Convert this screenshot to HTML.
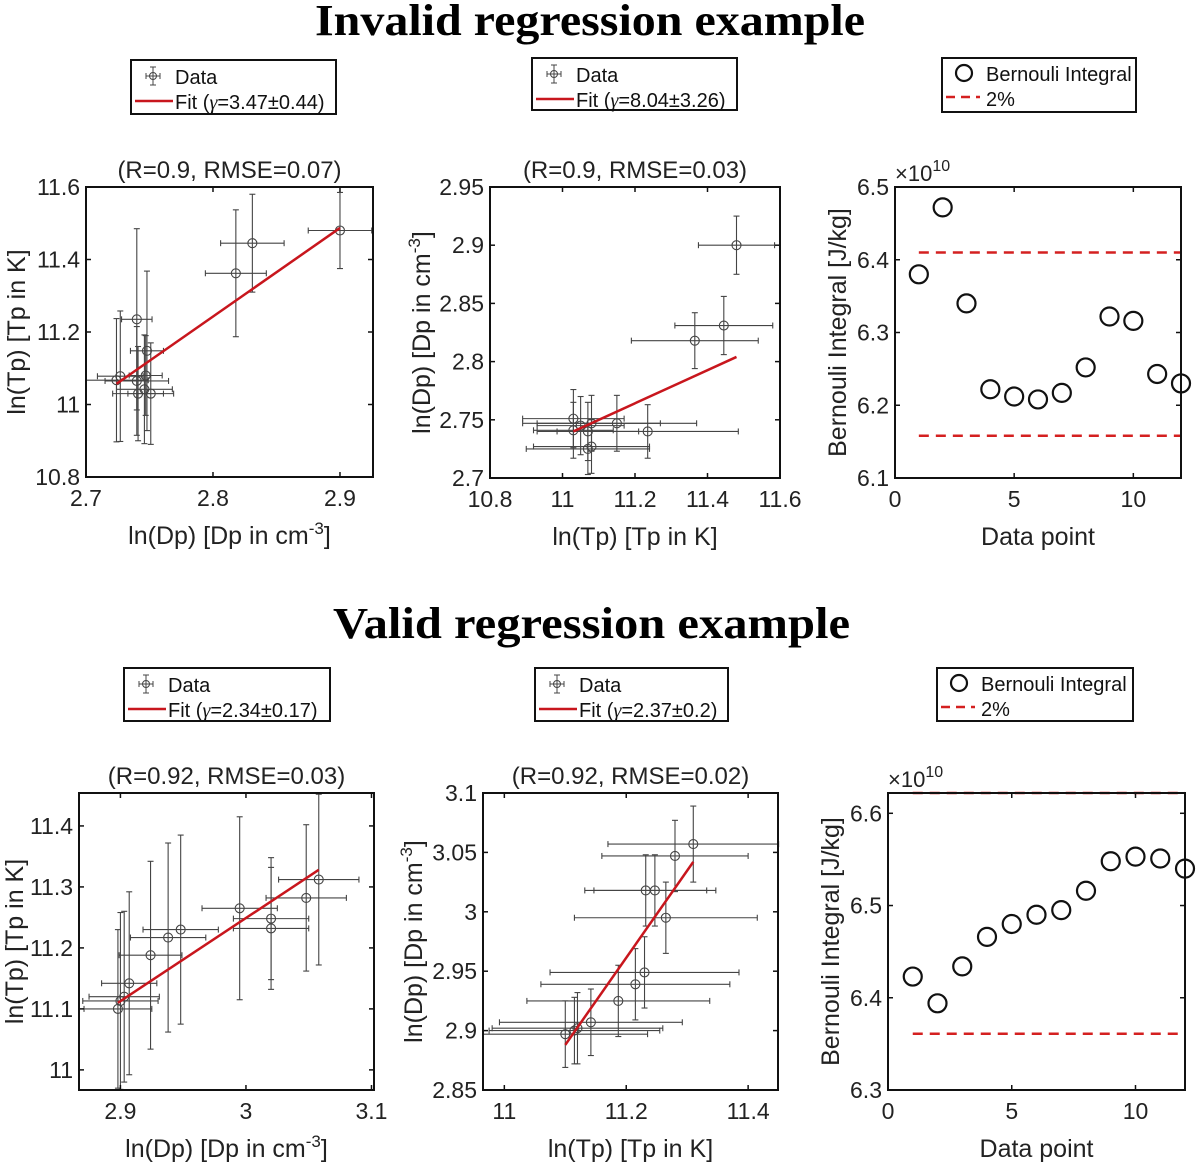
<!DOCTYPE html>
<html><head><meta charset="utf-8">
<style>
html,body{margin:0;padding:0;background:#fff;}
svg text{font-family:"Liberation Sans",Arial,sans-serif;}
</style></head>
<body>
<svg id="fig" width="1200" height="1167" viewBox="0 0 1200 1167" xmlns="http://www.w3.org/2000/svg">
<rect width="1200" height="1167" fill="#fff"/>
<text x="315" y="35" textLength="550" lengthAdjust="spacingAndGlyphs" font-weight="bold" font-size="44" style="font-family:'Liberation Serif',serif">Invalid regression example</text>
<text x="333" y="638" textLength="517" lengthAdjust="spacingAndGlyphs" font-weight="bold" font-size="44" style="font-family:'Liberation Serif',serif">Valid regression example</text>
<g id="root"></g>
</svg>
<script>
// Panel 1 data (invalid, Tp vs Dp)
const p1X=[2.724,2.727,2.740,2.740,2.741,2.746,2.747,2.748,2.751,2.818,2.831,2.900];
const p1Y=[11.067,11.078,11.235,11.065,11.030,11.042,11.080,11.148,11.030,11.362,11.445,11.480];
const p1XE=[0.025,0.018,0.012,0.025,0.020,0.022,0.013,0.013,0.018,0.024,0.025,0.025];
const p1YE=[0.17,0.18,0.25,0.15,0.13,0.15,0.11,0.22,0.14,0.175,0.135,0.105];
const p1Fit=[[2.724,11.057],[2.900,11.487]];
// Panel 2 data (invalid, Dp vs Tp)
const p2X=[11.030,11.030,11.070,11.080,11.070,11.080,11.150,11.235,11.365,11.445,11.480,11.050];
const p2Y=[2.751,2.741,2.740,2.747,2.725,2.727,2.747,2.740,2.818,2.831,2.900,2.745];
const p2XE=[0.14,0.11,0.14,0.19,0.17,0.16,0.22,0.25,0.175,0.135,0.105,0.12];
const p2YE=[0.025,0.024,0.025,0.024,0.022,0.023,0.024,0.023,0.024,0.025,0.025,0.025];
const p2Fit=[[11.03,2.740],[11.48,2.804]];
// Panel 3 data (valid, Tp vs Dp)
const p3X=[2.898,2.900,2.903,2.907,2.924,2.938,2.948,2.995,3.020,3.020,3.048,3.058];
const p3Y=[11.100,11.113,11.120,11.142,11.188,11.217,11.230,11.265,11.248,11.232,11.282,11.312];
const p3XE=[0.027,0.030,0.028,0.022,0.025,0.030,0.030,0.030,0.030,0.030,0.032,0.032];
const p3YE=[0.13,0.145,0.14,0.15,0.154,0.155,0.155,0.15,0.1,0.1,0.12,0.14];
const p3Fit=[[2.898,11.11],[3.058,11.328]];
// Panel 4 data (valid, Dp vs Tp)
const p4X=[11.100,11.115,11.120,11.142,11.187,11.215,11.230,11.232,11.247,11.265,11.280,11.310];
const p4Y=[2.897,2.900,2.902,2.907,2.925,2.939,2.949,3.018,3.018,2.995,3.047,3.057];
const p4XE=[0.135,0.14,0.14,0.15,0.15,0.155,0.155,0.1,0.1,0.15,0.12,0.14];
const p4YE=[0.028,0.028,0.030,0.028,0.030,0.030,0.030,0.030,0.030,0.030,0.030,0.032];
const p4Fit=[[11.10,2.888],[11.31,3.042]];
// Bernoulli panels
const bX=[1,2,3,4,5,6,7,8,9,10,11,12];
const b1Y=[6.380,6.472,6.340,6.222,6.212,6.208,6.217,6.252,6.322,6.316,6.243,6.230];
const b1Lines=[6.410,6.158];
const b2Y=[6.423,6.394,6.434,6.466,6.480,6.490,6.495,6.516,6.548,6.553,6.551,6.540];
const b2Lines=[6.361,6.622];
// tick labels
const t1x=[2.7,2.8,2.9], t1y=[10.8,11,11.2,11.4,11.6];
const t2x=[10.8,11,11.2,11.4,11.6], t2y=[2.7,2.75,2.8,2.85,2.9,2.95];
const t3x=[2.9,3,3.1], t3y=[11,11.1,11.2,11.3,11.4];
const t4x=[11,11.2,11.4], t4y=[2.85,2.9,2.95,3,3.05,3.1];
const t5x=[0,5,10], t5y=[6.1,6.2,6.3,6.4,6.5];
const t6x=[0,5,10], t6y=[6.3,6.4,6.5,6.6];

const NS="http://www.w3.org/2000/svg";
const root=document.getElementById('root');
function mk(tag,attrs,parent){const e=document.createElementNS(NS,tag);for(const k in attrs)e.setAttribute(k,attrs[k]);(parent||root).appendChild(e);return e;}
function fmt(v){return String(+v.toFixed(3));}

function axes(g,box,xd,yd,xt,yt,title,xl,yl,ylx){
  const sx=v=>box.l+(v-xd[0])/(xd[1]-xd[0])*(box.r-box.l);
  const sy=v=>box.b-(v-yd[0])/(yd[1]-yd[0])*(box.b-box.t);
  return {sx,sy,finish:function(){
    const fr=mk('rect',{x:box.l,y:box.t,width:box.r-box.l,height:box.b-box.t,fill:'none',stroke:'#111','stroke-width':2},g);
    
    xt.forEach(v=>{const x=sx(v);
      mk('line',{x1:x,x2:x,y1:box.b,y2:box.b-5,stroke:'#111','stroke-width':1.5},g);
      mk('line',{x1:x,x2:x,y1:box.t,y2:box.t+5,stroke:'#111','stroke-width':1.5},g);
      const t=mk('text',{x:x,y:box.b+29,'text-anchor':'middle','font-size':23,fill:'#222'},g);t.textContent=fmt(v);
      });
    yt.forEach(v=>{const y=sy(v);
      mk('line',{x1:box.l,x2:box.l+5,y1:y,y2:y,stroke:'#111','stroke-width':1.5},g);
      mk('line',{x1:box.r,x2:box.r-5,y1:y,y2:y,stroke:'#111','stroke-width':1.5},g);
      const t=mk('text',{x:box.l-6,y:y+8,'text-anchor':'end','font-size':23,fill:'#222'},g);t.textContent=fmt(v);
      });
    if(title){const t=mk('text',{x:(box.l+box.r)/2,y:box.t-9,'text-anchor':'middle','font-size':24,fill:'#222'},g);t.textContent=title;
      }
    const xlab=mk('text',{x:(box.l+box.r)/2,y:box.b+67,'text-anchor':'middle','font-size':25,fill:'#222'},g);
    xlab.innerHTML=xl;
    const cy=(box.t+box.b)/2;
    const ylab=mk('text',{x:ylx,y:cy,'text-anchor':'middle','font-size':25,fill:'#222',transform:`rotate(-90 ${ylx} ${cy})`},g);
    ylab.innerHTML=yl;
  }};
}

function scatterPanel(name,box,xd,yd,xt,yt,X,Y,XE,YE,fit,title,xl,yl,ylx){
  const g=mk('g',{});
  
  const a=axes(g,box,xd,yd,xt,yt,title,xl,yl,ylx);
  const clip='clip-'+name;
  const cp=mk('clipPath',{id:clip},g);mk('rect',{x:box.l,y:box.t-8,width:box.r-box.l+6,height:box.b-box.t+8},cp);
  const dg=mk('g',{'clip-path':`url(#${clip})`},g);
  X.forEach((x,i)=>{
    const px=a.sx(x),py=a.sy(Y[i]);
    const x0=a.sx(x-XE[i]),x1=a.sx(x+XE[i]),y0=a.sy(Y[i]-YE[i]),y1=a.sy(Y[i]+YE[i]);
    const eg=mk('g',{stroke:'#444','stroke-width':1.1,fill:'none'},dg);
    
    mk('line',{x1:x0,x2:x1,y1:py,y2:py},eg);
    mk('line',{x1:x0,x2:x0,y1:py-3,y2:py+3},eg);
    mk('line',{x1:x1,x2:x1,y1:py-3,y2:py+3},eg);
    mk('line',{x1:px,x2:px,y1:y0,y2:y1},eg);
    mk('line',{x1:px-3,x2:px+3,y1:y0,y2:y0},eg);
    mk('line',{x1:px-3,x2:px+3,y1:y1,y2:y1},eg);
    mk('circle',{cx:px,cy:py,r:4.5},eg);
  });
  const fl=mk('line',{x1:a.sx(fit[0][0]),y1:a.sy(fit[0][1]),x2:a.sx(fit[1][0]),y2:a.sy(fit[1][1]),stroke:'#c8161d','stroke-width':2.5},dg);
  
  a.finish();
}

function bernPanel(name,box,yd,yt,Y,lines,ylx){
  const g=mk('g',{});
  
  const a=axes(g,box,[0,12],yd,t5x,yt,null,'Data point','Bernouli Integral [J/kg]',ylx);
  lines.forEach(v=>{const l=mk('line',{x1:a.sx(1),x2:a.sx(12),y1:a.sy(v),y2:a.sy(v),stroke:'#d42020','stroke-width':2.5,'stroke-dasharray':'10 7'},g);
    });
  bX.forEach((x,i)=>{const c=mk('circle',{cx:a.sx(x),cy:a.sy(Y[i]),r:9,fill:'none',stroke:'#111','stroke-width':2.2},g);
    });
  a.finish();
  const ex=mk('text',{x:box.l,y:box.t-6,'font-size':22,fill:'#222'},g);
  ex.innerHTML='×10<tspan dy="-10" font-size="16">10</tspan>';
  
}

function legendFit(name,x,y,w,h,gamma){
  const g=mk('g',{});
  
  mk('rect',{x:x,y:y,width:w,height:h,fill:'#fff',stroke:'#111','stroke-width':2},g);
  const ix=x+22,iy=y+16;
  const eg=mk('g',{stroke:'#444','stroke-width':1,fill:'none'},g);
  mk('line',{x1:ix-7,x2:ix+7,y1:iy,y2:iy},eg);mk('line',{x1:ix-7,x2:ix-7,y1:iy-3,y2:iy+3},eg);mk('line',{x1:ix+7,x2:ix+7,y1:iy-3,y2:iy+3},eg);
  mk('line',{x1:ix,x2:ix,y1:iy-9,y2:iy+9},eg);mk('line',{x1:ix-3,x2:ix+3,y1:iy-9,y2:iy-9},eg);mk('line',{x1:ix-3,x2:ix+3,y1:iy+9,y2:iy+9},eg);
  mk('circle',{cx:ix,cy:iy,r:3.5},eg);
  const t1=mk('text',{x:x+44,y:y+24,'font-size':20,fill:'#111'},g);t1.textContent='Data';
  mk('line',{x1:x+4,x2:x+42,y1:y+41,y2:y+41,stroke:'#c8161d','stroke-width':2.5},g);
  const t2=mk('text',{x:x+44,y:y+49,'font-size':20,fill:'#111'},g);
  t2.innerHTML='Fit (<tspan style="font-family:\'Liberation Serif\',serif;font-style:italic">γ</tspan>='+gamma+')';
}
function legendBern(name,x,y,w,h){
  const g=mk('g',{});
  
  mk('rect',{x:x,y:y,width:w,height:h,fill:'#fff',stroke:'#111','stroke-width':2},g);
  mk('circle',{cx:x+22,cy:y+15,r:8,fill:'none',stroke:'#111','stroke-width':2.2},g);
  const t1=mk('text',{x:x+44,y:y+23,'font-size':20,fill:'#111'},g);t1.textContent='Bernouli Integral';
  mk('line',{x1:x+4,x2:x+38,y1:y+39,y2:y+39,stroke:'#d42020','stroke-width':2.5,'stroke-dasharray':'9 6'},g);
  const t2=mk('text',{x:x+44,y:y+48,'font-size':20,fill:'#111'},g);t2.textContent='2%';
}

const cm='[Dp in cm<tspan dy="-10" font-size="17">-3</tspan><tspan dy="10">]</tspan>';
scatterPanel('panel-invalid-tp-vs-dp',{l:86,r:373,t:187,b:477},[2.7,2.926],[10.8,11.6],t1x,t1y,p1X,p1Y,p1XE,p1YE,p1Fit,'(R=0.9, RMSE=0.07)','ln(Dp) '+cm,'ln(Tp) [Tp in K]',25);
scatterPanel('panel-invalid-dp-vs-tp',{l:490,r:780,t:187,b:478},[10.8,11.6],[2.7,2.95],t2x,t2y,p2X,p2Y,p2XE,p2YE,p2Fit,'(R=0.9, RMSE=0.03)','ln(Tp) [Tp in K]','ln(Dp) '+cm,430);
bernPanel('panel-invalid-bernoulli',{l:895,r:1181,t:187,b:478},[6.1,6.5],t5y,b1Y,b1Lines,846);
scatterPanel('panel-valid-tp-vs-dp',{l:79,r:374,t:793,b:1090},[2.867,3.102],[10.967,11.454],t3x,t3y,p3X,p3Y,p3XE,p3YE,p3Fit,'(R=0.92, RMSE=0.03)','ln(Dp) '+cm,'ln(Tp) [Tp in K]',23);
scatterPanel('panel-valid-dp-vs-tp',{l:483,r:778,t:793,b:1090},[10.965,11.449],[2.85,3.1],t4x,t4y,p4X,p4Y,p4XE,p4YE,p4Fit,'(R=0.92, RMSE=0.02)','ln(Tp) [Tp in K]','ln(Dp) '+cm,422);
bernPanel('panel-valid-bernoulli',{l:888,r:1185,t:793,b:1090},[6.3,6.622],t6y,b2Y,b2Lines,839);

legendFit('legend-invalid-1',131,60,205,54,'3.47±0.44');
legendFit('legend-invalid-2',532,58,205,52,'8.04±3.26');
legendBern('legend-invalid-3',942,58,194,54);
legendFit('legend-valid-1',124,668,206,53,'2.34±0.17');
legendFit('legend-valid-2',535,668,193,53,'2.37±0.2');
legendBern('legend-valid-3',937,668,196,53);
</script>
</body></html>
